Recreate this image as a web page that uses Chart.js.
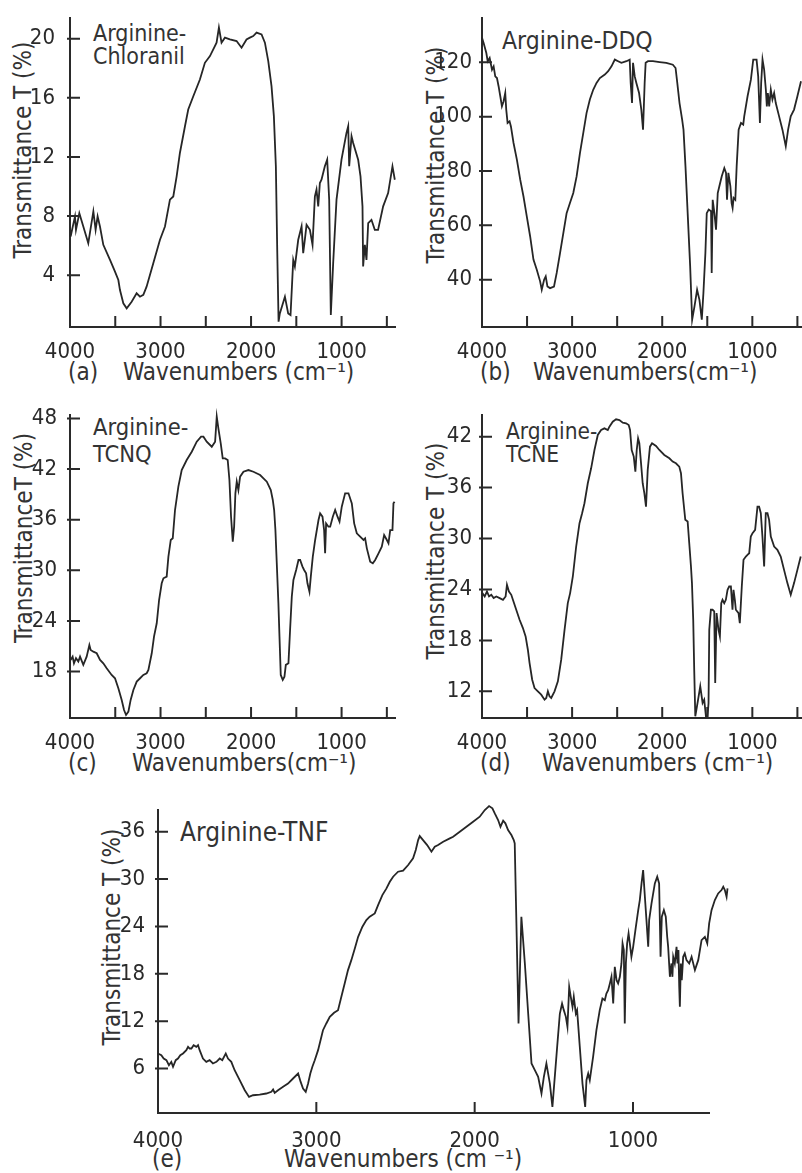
<!DOCTYPE html>
<html><head><meta charset="utf-8">
<script src="https://cdn.jsdelivr.net/npm/chart.js@4.4.1/dist/chart.umd.min.js"></script>
<style>
html,body{margin:0;padding:0;background:#fff;}
body{width:802px;height:1173px;position:relative;overflow:hidden;font-family:'DejaVu Sans Condensed','DejaVu Sans',sans-serif;color:#333;}
canvas{position:absolute;}
.t{position:absolute;white-space:nowrap;font-size:24px;line-height:24px;}
.yt{position:absolute;white-space:nowrap;font-size:24px;line-height:26px;height:26px;width:280px;text-align:center;transform:rotate(-90deg);}
</style></head><body>
<div class="t" style="left:93px;top:22px;font-size:23px;line-height:23px">Arginine-</div>
<div class="t" style="left:93px;top:45px;font-size:23px;line-height:23px">Chloranil</div>
<div class="t" style="left:502px;top:29px;font-size:24.5px">Arginine-DDQ</div>
<div class="t" style="left:93px;top:415px;font-size:23.5px">Arginine-</div>
<div class="t" style="left:93px;top:442px;font-size:23.5px">TCNQ</div>
<div class="t" style="left:506px;top:419px;font-size:22.5px">Arginine-</div>
<div class="t" style="left:506px;top:442px;font-size:22.5px">TCNE</div>
<div class="t" style="left:180px;top:819px;font-size:26px;line-height:26px">Arginine-TNF</div>

<div class="t" style="left:68px;top:360px">(a)</div>
<div class="t" style="left:123px;top:360px">Wavenumbers (cm⁻¹)</div>
<div class="t" style="left:480px;top:360px">(b)</div>
<div class="t" style="left:533px;top:360px">Wavenumbers(cm⁻¹)</div>
<div class="t" style="left:68px;top:751px">(c)</div>
<div class="t" style="left:132px;top:751px">Wavenumbers(cm⁻¹)</div>
<div class="t" style="left:480px;top:751px">(d)</div>
<div class="t" style="left:542px;top:751px">Wavenumbers (cm⁻¹)</div>
<div class="t" style="left:152px;top:1147px">(e)</div>
<div class="t" style="left:284px;top:1147px">Wavenumbers (cm ⁻¹)</div>

<div class="yt" style="left:-117px;top:137px">Transmittance T (%)</div>
<div class="yt" style="left:296px;top:142px">Transmittance T (%)</div>
<div class="yt" style="left:-116px;top:525px">TransmittanceT (%)</div>
<div class="yt" style="left:296px;top:538px">Transmittance T (%)</div>
<div class="yt" style="left:-28px;top:924px">Transmittance T (%)</div>
<script>
// ---------- data (wavenumber cm-1, transmittance %) ----------
const aWavenumber=[3993,3945,3934,3897,3853,3798,3742,3717,3695,3669,3632,3558,3503,3466,3448,3411,3374,3319,3264,3227,3190,3154,3080,3006,2951,2896,2859,2822,2786,2730,2694,2638,2565,2510,2454,2381,2355,2326,2289,2234,2160,2105,2050,2013,1976,1939,1884,1847,1810,1774,1748,1726,1711,1696,1682,1626,1590,1564,1534,1516,1479,1442,1424,1406,1387,1350,1321,1295,1277,1258,1240,1222,1185,1159,1137,1119,1093,1056,1001,946,927,916,890,872,817,791,769,762,743,725,706,670,633,597,541,486,438,412];
const aTransmittance=[6.62,7.98,7.07,8.2,7.3,6.17,8.32,7.07,7.98,7.3,6.06,5.04,4.25,3.68,3.0,2.1,1.76,2.21,2.78,2.55,2.67,3.23,4.81,6.4,7.3,9.11,9.33,10.69,12.27,14.08,15.21,16.11,17.24,18.37,18.82,19.73,20.75,19.73,20.07,19.95,19.84,19.39,19.95,20.07,20.18,20.41,20.29,19.73,18.49,16.79,14.76,11.37,5.72,0.86,1.42,2.55,1.42,1.31,5.04,4.59,6.4,7.3,5.49,6.4,7.41,7.07,6.06,9.33,9.79,8.66,10.24,10.46,11.37,11.82,9.11,1.31,4.81,9.11,11.82,13.63,14.08,11.37,13.4,12.95,11.82,10.69,8.66,4.59,6.06,5.04,7.53,7.75,7.07,7.07,8.66,9.56,11.37,10.46];

const bWavenumber=[4000,3982,3952,3937,3915,3889,3871,3853,3834,3816,3797,3779,3761,3742,3731,3716,3694,3679,3650,3613,3576,3540,3503,3466,3429,3392,3355,3337,3311,3293,3274,3245,3201,3171,3134,3097,3061,3024,2987,2950,2913,2876,2840,2803,2766,2729,2692,2637,2600,2563,2526,2490,2453,2397,2361,2350,2335,2324,2305,2287,2257,2232,2213,2195,2184,2158,2103,2029,1955,1882,1852,1837,1808,1779,1764,1742,1716,1690,1668,1642,1613,1587,1561,1543,1521,1506,1484,1458,1451,1440,1421,1403,1384,1366,1340,1311,1292,1281,1266,1244,1230,1219,1208,1189,1174,1152,1126,1101,1090,1053,1016,990,953,935,916,902,887,869,850,839,828,813,795,777,758,740,703,666,629,603,574,537,500,460];
const bTransmittance=[129,127.1,123.4,120.4,121.6,117.3,118.5,114.8,114.2,111.2,107.5,103.8,105.6,108.7,102.6,97.7,98.3,96.4,90.3,84.2,76.8,70.7,63.3,56.0,47.4,43.7,39.4,36.3,40.0,41.2,37.5,36.9,37.5,42.5,49.8,57.2,64.5,68.2,71.9,78.0,86.6,94.0,101.3,106.3,109.9,112.4,114.2,115.5,116.7,118.5,121.0,120.4,119.8,120.4,121.0,112.4,105.0,119.8,114.8,112.4,108.7,102.6,95.2,112.4,119.8,120.4,120.4,120.1,119.8,119.1,117.9,113.6,105.0,98.9,95.2,81.7,63.3,44.9,25.3,30.2,36.3,32.6,25.3,35.1,49.8,64.5,65.8,65.2,42.5,69.4,64.5,58.4,71.9,74.4,78.0,81.1,79.3,69.4,79.3,74.4,68.2,66.4,70.1,69.4,81.7,95.2,97.7,97.1,100.1,107.5,113.6,121.0,121.0,114.8,97.7,112.4,121.0,117.3,109.9,103.8,108.7,103.8,109.9,106.3,108.7,105.0,100.1,95.2,89.1,95.2,100.1,102.6,107.5,113.0];

const cWavenumber=[3993,3971,3956,3934,3908,3889,3853,3816,3786,3772,3742,3705,3668,3632,3595,3540,3503,3466,3429,3403,3381,3355,3330,3300,3263,3226,3190,3153,3134,3097,3072,3042,3016,2987,2968,2932,2913,2887,2865,2840,2803,2766,2711,2655,2600,2552,2526,2490,2434,2397,2379,2361,2335,2313,2287,2258,2239,2221,2202,2187,2173,2158,2140,2121,2084,2029,1974,1900,1826,1782,1760,1745,1731,1716,1698,1686,1672,1650,1631,1616,1587,1569,1550,1532,1502,1476,1458,1432,1414,1392,1377,1355,1340,1318,1292,1255,1237,1211,1193,1182,1171,1145,1126,1097,1071,1045,1023,998,961,924,887,861,832,795,758,740,721,684,655,629,592,556,530,500,482,463,438,427,415];
const cTransmittance=[19.38,19.77,18.98,19.58,19.18,19.77,18.79,19.77,21.15,20.56,20.36,20.17,19.38,18.98,18.39,17.60,17.21,16.02,14.64,13.45,12.86,13.26,14.64,15.82,16.81,17.21,17.60,17.80,18.19,20.17,22.14,23.72,26.48,28.46,29.05,29.25,31.62,33.59,33.79,37.14,39.91,41.88,43.07,44.05,45.24,45.83,45.83,45.24,44.64,45.24,48.2,46.82,45.04,43.26,43.26,43.07,40.70,36.35,33.39,35.17,39.12,40.50,39.51,41.09,41.68,41.88,41.68,41.29,40.50,39.51,38.33,37.14,34.77,30.83,26.09,22.14,17.60,17.01,17.40,18.79,18.98,22.93,26.88,28.85,30.04,31.22,31.22,30.43,30.04,29.64,28.46,27.47,29.25,31.62,33.59,35.96,36.75,36.35,34.77,32.01,35.56,35.17,35.17,36.35,37.14,36.35,35.76,37.54,39.12,39.12,37.93,35.56,34.38,33.98,33.59,33.79,32.60,31.02,30.83,31.22,32.01,32.80,34.18,33.59,33.20,34.77,34.77,37.93,38.13];

const dWavenumber=[3996,3970,3945,3922,3897,3871,3841,3804,3767,3738,3723,3701,3675,3657,3620,3583,3546,3516,3491,3472,3443,3417,3380,3343,3306,3287,3269,3251,3232,3195,3158,3121,3084,3048,3022,2992,2955,2918,2889,2863,2826,2789,2752,2715,2678,2641,2604,2586,2549,2512,2475,2438,2401,2372,2357,2339,2316,2298,2283,2268,2254,2235,2217,2198,2180,2161,2136,2113,2069,2032,1977,1921,1884,1848,1811,1792,1774,1744,1718,1700,1681,1670,1656,1645,1633,1608,1578,1552,1534,1515,1497,1486,1478,1460,1441,1423,1412,1397,1375,1360,1345,1331,1312,1294,1275,1257,1238,1220,1209,1194,1183,1153,1139,1117,1098,1072,1054,1035,1017,998,969,943,925,906,888,869,851,832,814,795,758,722,685,648,611,574,537,500,463];
const dTransmittance=[23.57,23.18,23.76,23.18,23.37,22.98,23.18,22.98,22.78,23.18,24.55,23.76,23.37,22.78,21.61,20.43,19.45,18.47,16.90,15.33,13.37,12.39,12.0,11.61,11.02,11.22,12.0,11.41,11.22,12.0,13.18,15.73,19.25,22.39,23.57,25.53,29.06,31.80,32.98,34.16,36.51,38.27,40.43,42.20,42.78,42.98,42.78,43.18,43.76,44.04,43.96,43.65,43.57,43.37,42.78,40.43,39.65,37.88,40.43,41.80,41.22,38.86,36.51,35.33,33.76,38.08,40.82,41.22,40.90,40.43,39.84,39.45,39.06,38.86,38.47,37.69,35.33,32.20,32.0,29.45,26.71,24.75,20.43,14.55,9.06,10.63,12.59,10.63,11.02,9.06,9.06,10.63,19.25,21.61,21.61,21.41,12.98,21.22,19.25,18.47,22.39,22.78,22.39,22.78,23.96,24.35,24.35,21.61,23.96,22.78,21.61,21.22,20.04,24.35,27.49,27.88,28.08,28.27,30.24,30.63,31.02,33.76,33.76,32.98,30.24,26.71,32.98,32.98,32.20,30.24,29.06,28.67,27.88,26.31,24.75,23.37,24.75,26.31,27.88];

const eWavenumber=[4000,3979,3964,3947,3931,3916,3905,3888,3874,3859,3842,3821,3810,3800,3789,3775,3758,3747,3737,3716,3695,3674,3653,3631,3610,3594,3572,3558,3537,3516,3484,3452,3425,3400,3358,3316,3284,3273,3263,3242,3210,3179,3147,3115,3099,3084,3067,3052,3038,3025,3010,2989,2968,2958,2937,2915,2888,2863,2842,2821,2800,2779,2757,2736,2709,2684,2663,2631,2610,2583,2557,2536,2515,2484,2452,2420,2389,2372,2357,2347,2326,2300,2273,2252,2231,2199,2157,2136,2094,2052,2010,1968,1936,1909,1888,1873,1852,1837,1820,1806,1789,1768,1753,1747,1723,1705,1683,1662,1641,1620,1599,1578,1563,1547,1525,1509,1494,1479,1462,1448,1437,1424,1414,1403,1393,1382,1374,1361,1353,1336,1319,1302,1294,1283,1273,1252,1231,1210,1193,1178,1168,1157,1146,1136,1125,1115,1104,1094,1083,1073,1066,1058,1052,1045,1037,1028,1020,1010,999,982,967,957,946,936,925,915,904,898,883,862,847,835,826,818,805,793,784,778,767,757,751,746,736,725,719,713,708,704,698,692,683,673,662,645,630,609,588,567,546,531,519,504,483,462,441,430,420,409,403];
const eTransmittance=[7.91,7.69,7.27,7.06,6.43,6.85,6.22,7.06,7.27,7.69,7.91,8.33,8.75,8.54,8.54,8.96,8.75,8.96,8.33,7.27,6.85,7.06,6.64,6.85,7.27,7.06,7.91,7.27,6.85,5.79,4.53,3.26,2.41,2.62,2.71,2.84,3.05,3.34,2.92,3.26,3.68,4.10,4.74,5.37,4.31,3.47,3.05,4.10,5.37,6.22,7.06,8.33,10.02,10.86,11.71,12.55,13.06,13.40,15.09,16.78,18.47,19.73,21.21,22.69,23.96,24.80,25.23,25.65,26.71,27.97,28.82,29.66,30.30,30.93,31.06,31.78,32.62,33.68,34.94,35.45,34.94,34.31,33.47,34.10,34.31,34.73,35.15,35.37,36.0,36.63,37.27,37.90,38.75,39.25,38.96,38.32,37.48,36.63,37.39,37.06,36.21,35.58,34.94,34.52,11.71,25.23,19.31,12.97,6.64,5.79,4.95,2.84,4.95,6.64,4.10,1.15,4.95,8.75,12.97,14.24,13.40,12.55,11.29,16.35,15.09,13.82,15.09,12.97,13.40,8.75,4.10,1.15,4.53,5.37,4.53,7.48,10.86,13.40,14.88,14.66,15.51,15.93,16.78,17.62,14.24,18.89,17.20,16.78,17.62,19.31,21.85,21.0,11.71,19.31,21.85,23.11,21.85,20.16,21.42,23.96,26.07,27.34,29.45,31.14,27.76,24.80,21.42,24.80,26.92,29.45,30.30,29.45,20.16,25.23,26.07,25.23,22.69,21.42,17.62,19.31,17.62,20.16,19.31,21.42,19.31,21.0,16.35,13.82,19.31,17.20,20.16,20.58,19.73,19.31,20.16,18.47,19.73,22.27,22.69,21.85,24.38,26.07,27.34,28.18,28.61,29.03,28.61,27.76,28.82];

// tick values
const xTicksFine=[4000,3500,3000,2500,2000,1500,1000,500];
const xTicksCoarse=[4000,3000,2000,1000];
const xTickLabels=[4000,3000,2000,1000];
const aYTicks=[4,8,12,16,20];
const bYTicks=[40,60,80,100,120];
const cYTicks=[18,24,30,36,42,48];
const dYTicks=[12,18,24,30,36,42];
const eYTicks=[6,12,18,24,30,36];

// ---------- drawing ----------
const FONT="'DejaVu Sans Condensed','DejaVu Sans',sans-serif";
const INK='#2a2a2a';
const tickPlugin={id:'inTicks',afterDraw(ch){
  const ctx=ch.ctx,a=ch.chartArea,xs=ch.scales.x,ys=ch.scales.y;
  ctx.save();ctx.strokeStyle=INK;ctx.lineWidth=2;ctx.lineCap='butt';ctx.beginPath();
  xs.ticks.forEach(t=>{if(t.value>=4000)return;const px=xs.getPixelForValue(t.value);ctx.moveTo(px,a.bottom);ctx.lineTo(px,a.bottom-11);});
  ys.ticks.forEach(t=>{const py=ys.getPixelForValue(t.value);ctx.moveTo(a.left-3,py);ctx.lineTo(a.left+10,py);});
  ctx.stroke();ctx.restore();}};

function panel(p){
  const c=document.createElement('canvas');
  c.style.left=p.cx+'px';c.style.top=p.cy+'px';
  c.width=p.cw;c.height=p.ch;
  document.body.appendChild(c);
  const pts=p.wn.map((w,i)=>({x:w,y:p.t[i]}));
  new Chart(c,{type:'line',
    data:{datasets:[{data:pts,borderColor:'#262626',borderWidth:1.8,pointRadius:0,tension:0,clip:false,fill:false}]},
    options:{responsive:false,animation:false,
      layout:{padding:{top:p.top-p.cy,right:p.cx+p.cw-p.right,left:0,bottom:0}},
      plugins:{legend:{display:false},tooltip:{enabled:false}},
      scales:{
        x:{type:'linear',reverse:true,min:p.xmin,max:4000,
          afterFit(s){s.height=p.cy+p.ch-p.bottom;},
          afterBuildTicks(s){s.ticks=p.xticks.filter(v=>v>=p.xmin).map(v=>({value:v}));},
          grid:{display:false},border:{display:true,width:2,color:INK},
          ticks:{autoSkip:false,maxRotation:0,padding:p.xpad,color:INK,font:{family:FONT,size:22},
            callback:v=>xTickLabels.includes(v)?String(v):''}},
        y:{type:'linear',min:p.ymin,max:p.ymax,
          afterFit(s){s.width=p.left-p.cx;},
          afterBuildTicks(s){s.ticks=p.yticks.map(v=>({value:v}));},
          grid:{display:false},border:{display:true,width:2,color:INK},
          ticks:{autoSkip:false,padding:p.ypad,color:INK,font:{family:FONT,size:22,lineHeight:1}}}
      }},
    plugins:[tickPlugin]});
}

panel({wn:aWavenumber,t:aTransmittance,cx:0,cy:0,cw:400,ch:360,left:70,top:18,right:395,bottom:327,xmin:410,ymin:0.5,ymax:21.4,yticks:aYTicks,xticks:xTicksFine,xpad:4,ypad:7});
panel({wn:bWavenumber,t:bTransmittance,cx:402,cy:0,cw:400,ch:360,left:482,top:18,right:801,bottom:327,xmin:460,ymin:22.6,ymax:136.3,yticks:bYTicks,xticks:xTicksFine,xpad:4,ypad:2});
panel({wn:cWavenumber,t:cTransmittance,cx:0,cy:390,cw:400,ch:360,left:70,top:415,right:395,bottom:718,xmin:410,ymin:12.5,ymax:48.4,yticks:cYTicks,xticks:xTicksFine,xpad:4,ypad:5});
panel({wn:dWavenumber,t:dTransmittance,cx:402,cy:390,cw:400,ch:360,left:482,top:415,right:801,bottom:718,xmin:460,ymin:8.86,ymax:44.55,yticks:dYTicks,xticks:xTicksFine,xpad:4,ypad:2});
panel({wn:eWavenumber,t:eTransmittance,cx:90,cy:790,cw:640,ch:383,left:158,top:810,right:709,bottom:1113,xmin:520,ymin:0.37,ymax:38.75,yticks:eYTicks,xticks:xTicksCoarse,xpad:7,ypad:5});
</script>
</body></html>
